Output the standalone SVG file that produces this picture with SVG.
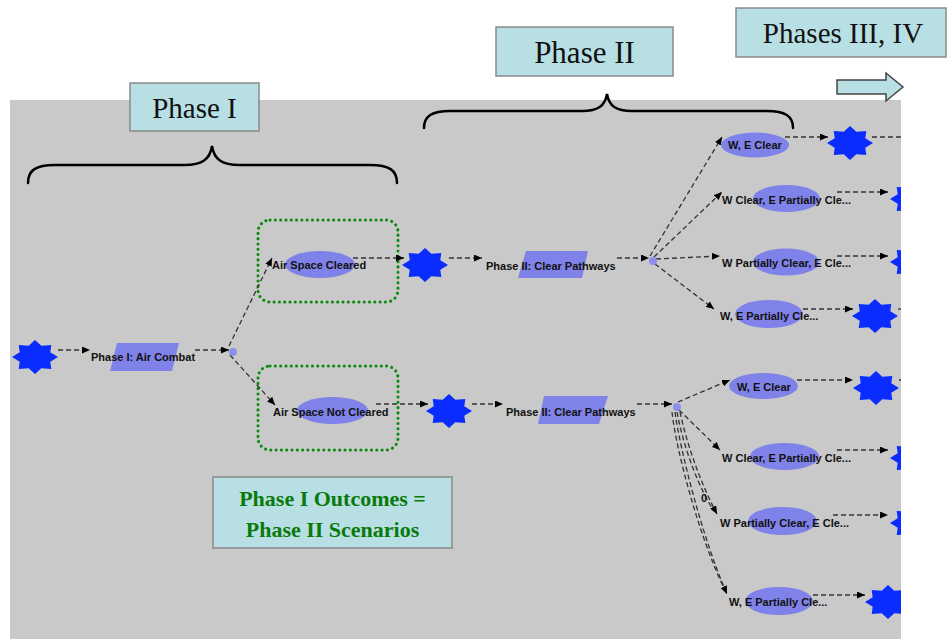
<svg xmlns="http://www.w3.org/2000/svg" width="948" height="639" viewBox="0 0 948 639">
<defs>
<style>
.bg{fill:#c9c9c9}
.phase{fill:#b7dfe4;stroke:#8a8a8a;stroke-width:1.5}
.ptxt{font-family:"Liberation Serif",serif;fill:#111;text-anchor:middle}
.brace{fill:none;stroke:#000;stroke-width:2.5;stroke-linecap:round}
.star{fill:#0a2cff}
.ell{fill:#7f82e8}
.para{fill:#7f82e8}
.dot{fill:#8c8fec}
.lbl{font-family:"Liberation Sans",Arial,sans-serif;font-weight:bold;font-size:11px;fill:#111}
.edge{fill:none;stroke:#333;stroke-width:1.3;stroke-dasharray:5 3}
.arr{marker-end:url(#ah)}
.grp{fill:none;stroke:#0a8a0a;stroke-width:3;stroke-dasharray:0.1 5.2;stroke-linecap:round}
.out{font-family:"Liberation Serif",serif;font-weight:bold;font-size:22px;fill:#0a7a0a;text-anchor:middle}
</style>
<marker id="ah" markerUnits="userSpaceOnUse" markerWidth="8" markerHeight="7" refX="8" refY="3.5" orient="auto">
<path d="M0,0 L8,3.5 L0,7 z" fill="#000"/>
</marker>
<path id="st" d="M23,0 L15.3,4.7 L16.3,12 L6.3,11.3 L0,17 L-6.3,11.3 L-16.3,12 L-15.3,4.7 L-23,0 L-15.3,-4.7 L-16.3,-12 L-6.3,-11.3 L0,-17 L6.3,-11.3 L16.3,-12 L15.3,-4.7 Z"/>
<clipPath id="clipBg"><rect x="10" y="100" width="891" height="539"/></clipPath>
</defs>

<rect class="bg" x="10" y="100" width="891" height="539"/>

<g id="header-phase1">
<rect class="phase" x="130" y="83" width="129" height="48"/>
<text class="ptxt" x="194.5" y="118" font-size="29">Phase I</text>
</g>
<g id="header-phase2">
<rect class="phase" x="496" y="27" width="177" height="49"/>
<text class="ptxt" x="584.5" y="63" font-size="31">Phase II</text>
</g>
<g id="header-phase34">
<rect class="phase" x="736" y="8" width="210" height="49"/>
<text class="ptxt" x="843" y="43" font-size="29">Phases III, IV</text>
</g>
<g id="next-arrow">
<polygon class="phase" style="stroke:#444" points="837,80 886,80 886,73 903,87 886,101 886,94 837,94"/>
</g>

<g id="braces">
<path class="brace" d="M28,183 C28,170 36,165 55,165 L185,165 C201,165 210,160 212,146 C214,160 223,165 239,165 L370,165 C389,165 397,170 397,183"/>
<path class="brace" d="M424,128 C424,116 432,111 450,111 L582,111 C598,111 605,106 607,94 C609,106 616,111 632,111 L767,111 C785,111 793,116 793,128"/>
</g>

<g id="groups">
<rect id="grp-cleared" class="grp" x="258" y="220" width="140" height="82" rx="12"/>
<rect id="grp-notcleared" class="grp" x="258" y="366" width="140" height="84" rx="12"/>
</g>

<g id="connectors" clip-path="url(#clipBg)">
<path class="edge arr" d="M58,350 L90,350"/>
<path class="edge arr" d="M195,350 L229,350"/>
<path class="edge arr" d="M229,346 L272,258"/>
<path class="edge arr" d="M230,355 L275,405"/>
<path class="edge arr" d="M353,258 L404,258"/>
<path class="edge arr" d="M449,258 L482,258"/>
<path class="edge arr" d="M617,258 L649,258"/>
<path class="edge arr" d="M376,404 L428,404"/>
<path class="edge arr" d="M472,404 L503,404"/>
<path class="edge arr" d="M637,404 L672,404"/>
<path class="edge arr" d="M650,256 L722,137"/>
<path class="edge arr" d="M654,257 L722,192"/>
<path class="edge arr" d="M656,259 L720,256"/>
<path class="edge arr" d="M655,264 L714,309"/>
<path class="edge arr" d="M678,402 L730,380"/>
<path class="edge arr" d="M679,410 L720,450"/>
<path class="edge" d="M672,412 C676,450 700,540 725,590"/>
<path class="edge arr" d="M675,412 C680,450 703,540 727,594"/>
<path class="edge" d="M677,412 C684,450 700,490 714,511"/>
<path class="edge arr" d="M680,412 C688,450 704,490 717,514"/>
<path class="edge arr" d="M785,137 L828,137"/>
<path class="edge" d="M872,137 L905,137"/>
<path class="edge arr" d="M837,192 L888,192"/>
<path class="edge arr" d="M837,256 L888,256"/>
<path class="edge arr" d="M803,309 L853,309"/>
<path class="edge" d="M898,309 L905,309"/>
<path class="edge arr" d="M797,380 L853,380"/>
<path class="edge" d="M899,380 L905,380"/>
<path class="edge arr" d="M837,450 L888,450"/>
<path class="edge arr" d="M833,515 L888,515"/>
<path class="edge arr" d="M813,595 L865,595"/>
<text class="lbl" x="701" y="502" font-size="10">0</text>
</g>

<g id="n-start"><use href="#st" class="star" x="35" y="357"/></g>
<g id="n-phase1"><polygon class="para" points="117,343 179,343 172,371 110,371"/><text class="lbl" x="91" y="361">Phase I: Air Combat</text></g>
<g id="n-dot1"><circle class="dot" cx="233" cy="352" r="4"/></g>
<g id="n-cleared"><ellipse class="ell" cx="320" cy="264.5" rx="35" ry="13.5"/><text class="lbl" x="272" y="269">Air Space Cleared</text></g>
<g id="n-notcleared"><ellipse class="ell" cx="332.5" cy="410.5" rx="35.5" ry="13.5"/><text class="lbl" x="273" y="416">Air Space Not Cleared</text></g>
<g id="n-star2"><use href="#st" class="star" x="425" y="265"/></g>
<g id="n-star3"><use href="#st" class="star" x="449" y="411"/></g>
<g id="n-phase2a"><polygon class="para" points="526,251 588,251 582,278 518,278"/><text class="lbl" x="486" y="270">Phase II: Clear Pathways</text></g>
<g id="n-phase2b"><polygon class="para" points="544,396 608,396 599,424 538,424"/><text class="lbl" x="506" y="416">Phase II: Clear Pathways</text></g>
<g id="n-dot2"><circle class="dot" cx="653" cy="261" r="4"/></g>
<g id="n-dot3"><circle class="dot" cx="677" cy="407" r="4"/></g>

<g id="right-nodes" clip-path="url(#clipBg)">
<g id="n-a1"><ellipse class="ell" cx="755" cy="145" rx="34" ry="12.5"/><text class="lbl" x="728" y="149">W, E Clear</text></g>
<g id="n-a2"><ellipse class="ell" cx="786.5" cy="198.5" rx="33.5" ry="13.5"/><text class="lbl" x="722" y="204">W Clear, E Partially Cle...</text></g>
<g id="n-a3"><ellipse class="ell" cx="786" cy="262" rx="33" ry="13.5"/><text class="lbl" x="722" y="267">W Partially Clear, E Cle...</text></g>
<g id="n-a4"><ellipse class="ell" cx="769" cy="314" rx="34" ry="14"/><text class="lbl" x="720" y="320">W, E Partially Cle...</text></g>
<g id="n-b1"><ellipse class="ell" cx="763.5" cy="386" rx="34.5" ry="13"/><text class="lbl" x="737" y="391">W, E Clear</text></g>
<g id="n-b2"><ellipse class="ell" cx="784.5" cy="456.5" rx="34.5" ry="13.5"/><text class="lbl" x="722" y="462">W Clear, E Partially Cle...</text></g>
<g id="n-b3"><ellipse class="ell" cx="782.5" cy="521" rx="34.5" ry="14"/><text class="lbl" x="720" y="527">W Partially Clear, E Cle...</text></g>
<g id="n-b4"><ellipse class="ell" cx="779" cy="601" rx="34" ry="14"/><text class="lbl" x="729" y="606">W, E Partially Cle...</text></g>
<g id="n-sa1"><use href="#st" class="star" x="850" y="143"/></g>
<g id="n-sa2"><use href="#st" class="star" x="913" y="199"/></g>
<g id="n-sa3"><use href="#st" class="star" x="913" y="262"/></g>
<g id="n-sa4"><use href="#st" class="star" x="875" y="316"/></g>
<g id="n-sb1"><use href="#st" class="star" x="876" y="388"/></g>
<g id="n-sb2"><use href="#st" class="star" x="913" y="458"/></g>
<g id="n-sb3"><use href="#st" class="star" x="913" y="523"/></g>
<g id="n-sb4"><use href="#st" class="star" x="888" y="602"/></g>
</g>

<g id="outcomes">
<rect class="phase" x="213" y="477" width="239" height="71"/>
<text class="out" x="332.5" y="506">Phase I Outcomes =</text>
<text class="out" x="332.5" y="537">Phase II Scenarios</text>
</g>
</svg>
